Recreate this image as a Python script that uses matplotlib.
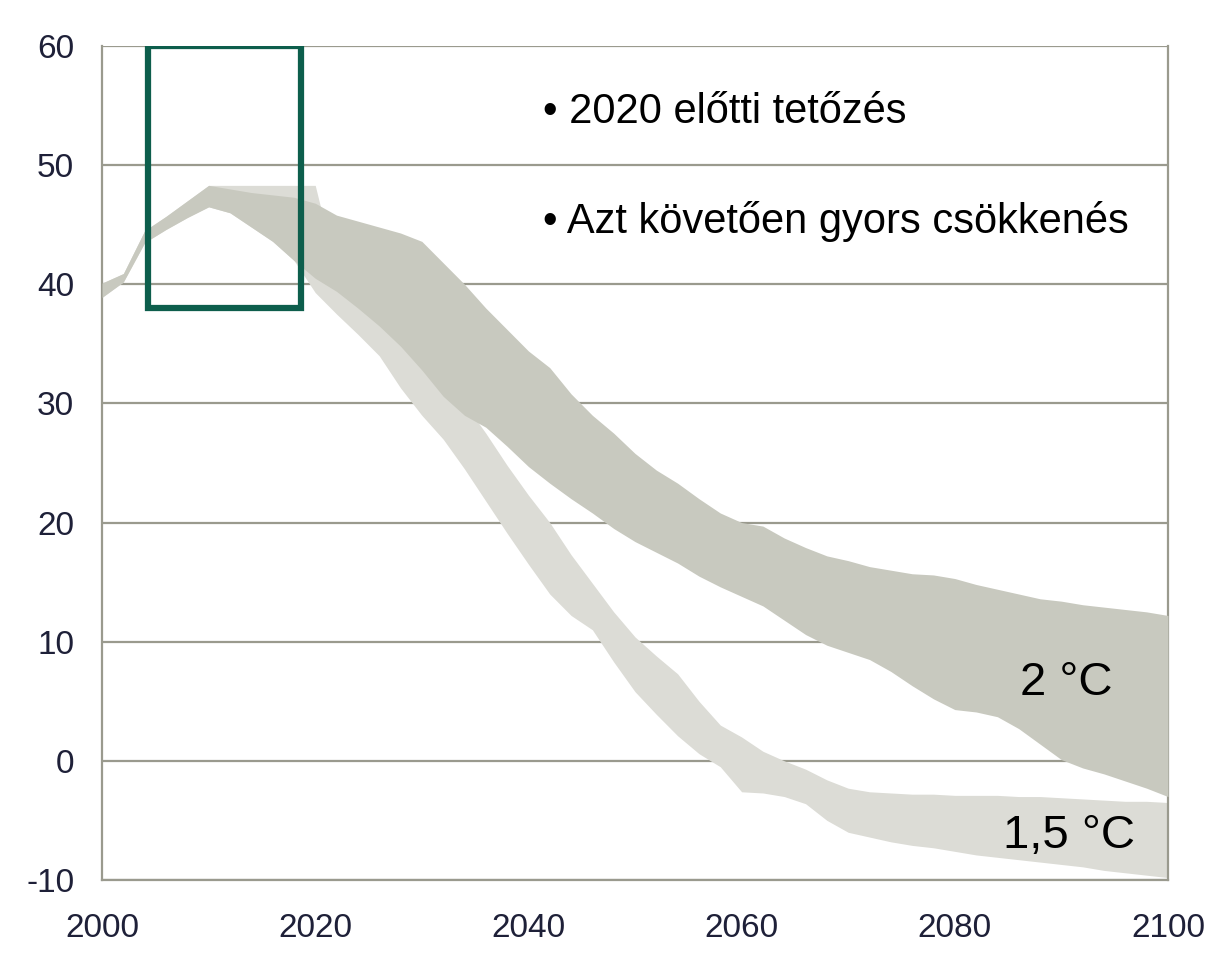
import matplotlib
matplotlib.use("Agg")
import matplotlib.pyplot as plt
import numpy as np

plt.rcParams["axes.unicode_minus"] = False

years = [2000, 2002, 2004, 2006, 2008, 2010, 2012, 2014, 2016, 2018, 2020,
         2022, 2024, 2026, 2028, 2030, 2032, 2034, 2036, 2038, 2040, 2042,
         2044, 2046, 2048, 2050, 2052, 2054, 2056, 2058, 2060, 2062, 2064,
         2066, 2068, 2070, 2072, 2074, 2076, 2078, 2080, 2082, 2084, 2086,
         2088, 2090, 2092, 2094, 2096, 2098, 2100]

# 2 °C pathway range (upper / lower edge)
c2_high = [40.1, 40.9, 44.5, 45.7, 47.0, 48.3, 48.0, 47.7, 47.5, 47.3, 46.8,
           45.8, 45.3, 44.8, 44.3, 43.6, 41.8, 40.0, 38.0, 36.2, 34.4, 33.0,
           30.8, 29.0, 27.5, 25.8, 24.4, 23.3, 22.0, 20.8, 20.0, 19.7, 18.7,
           17.9, 17.2, 16.8, 16.3, 16.0, 15.7, 15.6, 15.3, 14.8, 14.4, 14.0,
           13.6, 13.4, 13.1, 12.9, 12.7, 12.5, 12.2]
c2_low = [38.9, 40.2, 43.5, 44.6, 45.6, 46.5, 46.0, 44.8, 43.6, 42.0, 40.5,
          39.4, 38.0, 36.5, 34.8, 32.8, 30.6, 29.0, 28.0, 26.4, 24.7, 23.3,
          22.0, 20.8, 19.5, 18.4, 17.5, 16.6, 15.5, 14.6, 13.8, 13.0, 11.8,
          10.6, 9.7, 9.1, 8.5, 7.5, 6.3, 5.2, 4.3, 4.1, 3.7, 2.7,
          1.4, 0.1, -0.6, -1.1, -1.7, -2.3, -3.0]

# 1,5 °C pathway range
c15_high = [40.1, 40.9, 44.5, 45.7, 47.0, 48.3, 48.3, 48.3, 48.3, 48.3, 48.3,
            41.0, 39.5, 38.0, 36.3, 34.3, 32.0, 30.0, 27.5, 24.8, 22.3, 20.0,
            17.3, 14.9, 12.5, 10.4, 8.8, 7.3, 5.0, 3.0, 2.0, 0.8, 0.0,
            -0.7, -1.6, -2.3, -2.6, -2.7, -2.8, -2.8, -2.9, -2.9, -2.9, -3.0,
            -3.0, -3.1, -3.2, -3.3, -3.4, -3.4, -3.5]
c15_low = [38.9, 40.2, 43.5, 44.6, 45.6, 46.5, 46.0, 44.8, 43.6, 42.0, 39.3,
           37.5, 35.8, 34.0, 31.3, 29.0, 27.0, 24.5, 21.8, 19.1, 16.5, 14.0,
           12.2, 11.0, 8.3, 5.8, 3.9, 2.1, 0.6, -0.5, -2.6, -2.7, -3.0,
           -3.6, -5.0, -6.0, -6.4, -6.8, -7.1, -7.3, -7.6, -7.9, -8.1, -8.3,
           -8.5, -8.7, -8.9, -9.2, -9.4, -9.6, -9.8]

box_x = [2004.3, 2018.7]
box_y = [38.0, 60.0]

bullets = ["• 2020 előtti tetőzés", "• Azt követően gyors csökkenés"]
bullet_y = [53.5, 44.3]

grid_c = "#9a9a8e"

fig = plt.figure(figsize=(12.31, 9.72), dpi=100)
ax = fig.add_axes([0.0829, 0.0947, 0.8659, 0.858])

ax.fill_between(years, c15_low, c15_high, color="#dcdcd6", lw=0, zorder=2)
ax.fill_between(years, c2_low, c2_high, color="#c8c9bf", lw=0, zorder=3)

ax.add_patch(plt.Rectangle((box_x[0], box_y[0]), box_x[1] - box_x[0],
                           box_y[1] - box_y[0], fill=False,
                           edgecolor="#0d5e4c", lw=4.5, zorder=5))

ax.set_xlim(2000, 2100)
ax.set_ylim(-10, 60)
ax.set_xticks(np.arange(2000, 2101, 20))
ax.set_yticks(np.arange(-10, 61, 10))
ax.yaxis.grid(True, color=grid_c, lw=1.6, zorder=1)
ax.set_axisbelow(True)
for s in ["left", "bottom", "right"]:
    ax.spines[s].set_color(grid_c)
    ax.spines[s].set_linewidth(1.6)
ax.spines["top"].set_visible(False)
ax.tick_params(length=0, labelsize=24, colors="#1e2038")
ax.tick_params(axis="y", pad=20)
ax.tick_params(axis="x", pad=24)
for lab in ax.get_xticklabels() + ax.get_yticklabels():
    lab.set_family("Liberation Sans")

for t, yy in zip(bullets, bullet_y):
    ax.text(2041.4, yy, t, fontsize=30, family="Liberation Sans",
            va="baseline", ha="left", zorder=6)

ax.text(2086.1, 5.5, "2 °C", fontsize=34, family="Liberation Sans",
        ha="left", va="baseline", zorder=6)
ax.text(2084.5, -7.3, "1,5 °C", fontsize=34, family="Liberation Sans",
        ha="left", va="baseline", zorder=6)

fig.savefig("out.png", dpi=100)
